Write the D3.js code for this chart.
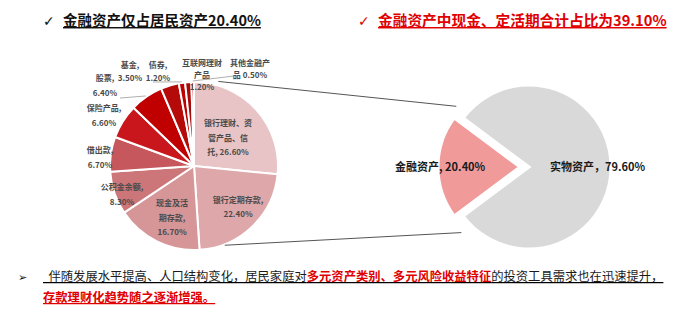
<!DOCTYPE html>
<html><head><meta charset="utf-8">
<script src="https://cdn.jsdelivr.net/npm/d3@7"></script>
<style>
html,body{margin:0;padding:0;background:#fff;}
svg{display:block;font-family:"Noto Sans CJK SC","Noto Sans",sans-serif;}
</style></head>
<body><svg id="c" width="699" height="314"></svg>
<script>
// ---- data ----
const finCategories = ["银行理财、资管产品、信托","银行定期存款","现金及活期存款","公积金余额","借出款","保险产品","股票","基金","债券","互联网理财产品","其他金融产品"];
const finValues = [26.6,22.4,16.7,8.3,6.7,6.6,6.4,3.5,1.2,1.2,0.5];
const finLabels = [["银行理财、资","管产品、信","托, 26.60%"],["银行定期存款,","22.40%"],["现金及活","期存款,","16.70%"],["公积金余额,","8.30%"],["借出款,","6.70%"],["保险产品,","6.60%"],["股票,","6.40%"],["基金,","3.50%"],["债券,","1.20%"],["互联网理财","产品","1.20%"],["其他金融产","品 0.50%"]];
const assetCategories = ["金融资产","实物资产"];
const assetValues = [20.4,79.6];
const assetLabels = ["金融资产, 20.40%","实物资产，79.60%"];
const title1 = "金融资产仅占居民资产20.40%";
const title2 = "金融资产中现金、定活期合计占比为39.10%";
const bottomLine1 = [["  伴随发展水平提高、人口结构变化，居民家庭对",false],["多元资产类别、多元风险收益特征",true],["的投资工具需求也在迅速提升，",false]];
const bottomLine2 = "存款理财化趋势随之逐渐增强。";

// ---- style / layout ----
const finColors = ["#e8c4c6","#dea8aa","#d69597","#cc7679","#c6575c","#c8161c","#c00000","#b40a0a","#c00000","#a80808","#c00000"];
const assetColors = ["#f09a9a","#d9d9d9"];
const svg = d3.select("#c");

// titles
function title(x, y, txt, color, size){
  svg.append("text").attr("x",x-20).attr("y",y).attr("font-size",14).attr("fill",color)
    .attr("font-family","DejaVu Sans").text("✓");
  svg.append("text").attr("x",x).attr("y",y).attr("font-size",size).attr("font-weight","bold")
    .attr("fill",color).style("text-decoration","underline").text(txt);
}
title(63,26,title1,"#111",14.5);
title(378,26,title2,"#e00000",14.7);

// left pie
const L = {cx:194, cy:166, r:84};
const pieL = d3.pie().sort(null).value(d=>d)(finValues);
const arcL = d3.arc().innerRadius(0).outerRadius(L.r);
const gL = svg.append("g").attr("transform",`translate(${L.cx},${L.cy})`);
gL.selectAll("path").data(pieL).join("path")
  .attr("d",arcL).attr("fill",(d,i)=>finColors[i])
  .attr("stroke","#fff").attr("stroke-width",2).attr("stroke-linejoin","round");

// label positions relative to centre (layout)
const labelPos = [[34,-43],[44,34],[-22,37],[-72,21],[-94,-16],[-90,-58],[-89,-88],[-64,-101],[-36,-101],[8,-103],[56,-103]];
const lineH = [14.5,14,14.5,14.5,15,14.5,15,13,13,12,12];
finLabels.forEach((lines,i)=>{
  const t = gL.append("text").attr("text-anchor","middle").attr("font-size",8)
    .attr("font-weight","bold").attr("fill","#4a4a4a");
  lines.forEach((s,j)=>{
    t.append("tspan").attr("x",labelPos[i][0]).attr("y",labelPos[i][1]+j*lineH[i]+3).text(s);
  });
});
// small leader lines
const leaderCol = "#9a9a9a";
function leader(i, p){
  const a = (pieL[i].startAngle+pieL[i].endAngle)/2;
  const q = [Math.sin(a)*(L.r+1), -Math.cos(a)*(L.r+1)];
  gL.append("line").attr("x1",p[0]).attr("y1",p[1]).attr("x2",q[0]).attr("y2",q[1])
    .attr("stroke",leaderCol).attr("stroke-width",0.8);
}
leader(6,[-74,-68]);
leader(8,[-41,-84]);
leader(10,[40,-90]);

// right pie
const R = {cx:529, cy:167, r:82, explode:9};
const startA = -Math.PI/2 - Math.PI*assetValues[0]/100;
const pieR = d3.pie().sort(null).value(d=>d).startAngle(startA).endAngle(startA+2*Math.PI)(assetValues);
const arcR = d3.arc().innerRadius(0).outerRadius(R.r);
const gR = svg.append("g").attr("transform",`translate(${R.cx},${R.cy})`);
gR.selectAll("path").data(pieR).join("path")
  .attr("d",arcR).attr("fill",(d,i)=>assetColors[i])
  .attr("transform",(d,i)=>{
    if(i!==0) return null;
    const a=(d.startAngle+d.endAngle)/2;
    return `translate(${Math.sin(a)*R.explode},${-Math.cos(a)*R.explode})`;
  })
  .attr("stroke","#fff").attr("stroke-width",3).attr("stroke-linejoin","miter");
gR.append("text").attr("x",-134).attr("y",4).attr("font-size",11).attr("font-weight","bold")
  .attr("fill","#1a1a1a").text(assetLabels[0]);
gR.append("text").attr("x",21).attr("y",4).attr("font-size",11).attr("font-weight","bold")
  .attr("fill","#1a1a1a").text(assetLabels[1]);

// connector lines
const fin = pieR[0];
const exA = (fin.startAngle+fin.endAngle)/2;
const ex = [R.cx+Math.sin(exA)*R.explode, R.cy-Math.cos(exA)*R.explode];
function pt(c, r, a){ return [c[0]+Math.sin(a)*r, c[1]-Math.cos(a)*r]; }
const topR = pt(ex, R.r+6, fin.endAngle+0.12);
const botR = pt(ex, R.r+6, fin.startAngle-0.2);
const topL = pt([L.cx,L.cy], L.r+4, 0.28);
const botL = pt([L.cx,L.cy], L.r+1, Math.PI-0.37);
svg.append("line").attr("x1",topL[0]).attr("y1",topL[1]).attr("x2",topR[0]).attr("y2",topR[1])
  .attr("stroke","#555").attr("stroke-width",1);
svg.append("line").attr("x1",botL[0]).attr("y1",botL[1]).attr("x2",botR[0]).attr("y2",botR[1])
  .attr("stroke","#555").attr("stroke-width",1);

// bottom text
svg.append("text").attr("x",18).attr("y",281).attr("font-size",11).attr("font-family","DejaVu Sans")
  .attr("fill","#111").text("➢");
const t1 = svg.append("text").attr("x",43).attr("y",281).attr("font-size",12.3)
  .attr("xml:space","preserve").style("white-space","pre").style("text-decoration","underline");
bottomLine1.forEach(([s,red])=>{
  t1.append("tspan").attr("fill",red?"#e00000":"#1a1a1a").attr("font-weight",red?"bold":"normal").text(s);
});
svg.append("text").attr("x",43).attr("y",302).attr("font-size",12.3).attr("font-weight","bold")
  .attr("fill","#e00000").style("text-decoration","underline").text(bottomLine2);
</script></body></html>
